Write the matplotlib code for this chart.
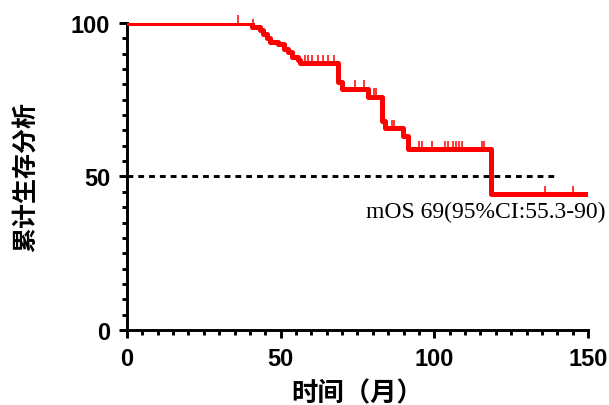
import numpy as np
import matplotlib
matplotlib.use("Agg")
import matplotlib.pyplot as plt
from matplotlib.ticker import MultipleLocator

# step function: time of each drop and the survival level after it
event_t = [0, 40.8, 43.3, 44.4, 45.4, 46.5, 49.2, 51.2, 52.5, 53.6, 55.7, 56.3,
           68.8, 69.9, 78.5, 82.9, 84.0, 89.9, 91.3, 118.4]
surv = [100, 98.6, 97.6, 96.5, 95.2, 93.8, 93.0, 91.6, 90.5, 89.0, 88.0, 86.9,
        80.7, 78.6, 76.0, 68.2, 65.8, 63.3, 59.0, 44.2]
t_end = 150

# censored observations
censor_t = [36, 41.1, 57.9, 59.0, 60.1, 62.0, 63.9, 65.5, 67.4, 74.2, 77.2,
            80.5, 81.0, 86.1, 87.0, 95.1, 95.9, 99.2, 103.5, 104.3, 106.2,
            107.1, 107.9, 109.0, 115.5, 116.3, 136, 145]

median_os = 50
median_end = 140
mos_text = "mOS 69(95%CI:55.3-90)"

fig = plt.figure(figsize=(6.09, 4.06), dpi=100)
ax = fig.add_axes([0.2085, 0.1847, 0.757, 0.7563])

xs = event_t + [t_end]
ys = surv + [surv[-1]]
ax.step(xs, ys, where="post", color="#ff0000", lw=3.6, zorder=3)

# censor marks sit on top of the curve
idx = np.searchsorted(event_t, censor_t, side="right") - 1
c_levels = np.array(surv)[idx]
ax.vlines(censor_t, c_levels, c_levels + 2.7, color="#ff0000", lw=1.1,
          zorder=2, clip_on=False)

ax.plot([0, median_end], [median_os, median_os], color="black", lw=2.1,
        linestyle=(0, (2.0, 1.7)), zorder=2)

ax.text(77.8, 42.0, mos_text, family="Liberation Serif", fontsize=17,
        va="top", ha="left", clip_on=False)

ax.set_xlim(0, 150)
ax.set_ylim(0, 100)
ax.xaxis.set_major_locator(MultipleLocator(50))
ax.xaxis.set_minor_locator(MultipleLocator(5))
ax.yaxis.set_major_locator(MultipleLocator(50))
ax.yaxis.set_minor_locator(MultipleLocator(5))

for s in ["top", "right"]:
    ax.spines[s].set_visible(False)
for s in ["left", "bottom"]:
    ax.spines[s].set_linewidth(2.1)

ax.tick_params(which="major", length=6, width=2.1, direction="out", pad=6)
ax.tick_params(which="minor", length=3.5, width=2.1, direction="out")
for lab in ax.get_xticklabels() + ax.get_yticklabels():
    lab.set_fontfamily("Liberation Sans")
    lab.set_fontweight("bold")
    lab.set_fontsize(17)

ax.set_xlabel("时间（月）", family=["Noto Sans CJK SC", "DejaVu Sans"],
              fontsize=19, fontweight="bold", labelpad=7)
ax.set_ylabel("累计生存分析", family=["Noto Sans CJK SC", "DejaVu Sans"],
              fontsize=18, fontweight="bold", labelpad=24)

fig.savefig("out.png", dpi=100)
